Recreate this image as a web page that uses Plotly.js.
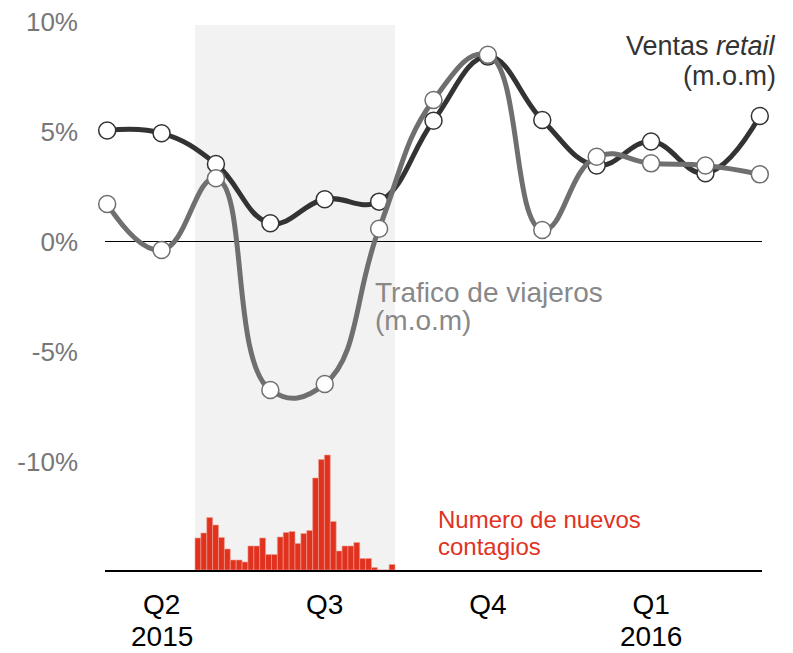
<!DOCTYPE html>
<html>
<head>
<meta charset="utf-8">
<script src="https://cdn.plot.ly/plotly-3.0.1.min.js"></script>
<style>html,body{margin:0;padding:0;background:#fff;}#chart{width:793px;height:653px;}</style>
</head>
<body>
<div id="chart"></div>
<script>
// Months (monthly observations)
const months = ['2015-04','2015-05','2015-06','2015-07','2015-08','2015-09','2015-10','2015-11','2015-12','2016-01','2016-02','2016-03','2016-04'];
// Ventas retail (m.o.m, %)
const retail = [5.04, 4.92, 3.52, 0.83, 1.92, 1.81, 5.49, 8.40, 5.52, 3.45, 4.54, 3.10, 5.70];
// Trafico de viajeros (m.o.m, %)
const travel = [1.70, -0.39, 2.87, -6.75, -6.48, 0.58, 6.43, 8.48, 0.52, 3.85, 3.55, 3.45, 3.05];
// Numero de nuevos contagios (per period, during the outbreak)
const cases = [6.4, 7.4, 10.5, 9.0, 6.5, 4.2, 2.0, 2.0, 1.6, 4.8, 4.8, 6.4, 3.1, 3.1, 6.6, 7.5, 7.7, 5.3, 7.3, 7.9, 18.4, 22.1, 23.0, 9.7, 3.8, 4.8, 4.8, 5.5, 2.3, 2.3, 0.5, 0, 0, 1.1];
const caseIdx = cases.map((_, i) => i);
// Tick labels
const yTickVals = [-10, -5, 0, 5, 10];
const yTickText = ['-10%', '-5%', '0%', '5%', '10%'];
const xTickVals = ['2015-05', '2015-08', '2015-11', '2016-02'];
const xTickText = ['Q2', 'Q3', 'Q4', 'Q1'];
const yearVals = ['2015-05', '2016-02'];
const yearText = ['2015', '2016'];

const FONT = 'Liberation Sans, Arial, sans-serif';
const L = 105, R = 31, T = 17, B = 83, W = 793, H = 653;
const pw = W - L - R, ph = H - T - B;
const px = x => (x - L) / pw;
const py = y => (H - B - y) / ph;

const traces = [
  {
    type: 'bar', x: caseIdx, y: cases, xaxis: 'x2', yaxis: 'y2',
    marker: {color: '#e0321f', line: {color: '#f0a090', width: 0.6}},
    hoverinfo: 'skip', showlegend: false
  },
  {
    type: 'scatter', mode: 'lines+markers', x: months, y: retail, cliponaxis: false,
    line: {color: '#333333', width: 5, shape: 'spline', smoothing: 1.2},
    marker: {size: 17, color: '#ffffff', line: {color: '#333333', width: 1.5}},
    showlegend: false
  },
  {
    type: 'scatter', mode: 'lines+markers', x: months, y: travel, cliponaxis: false,
    line: {color: '#6f6f6f', width: 5, shape: 'spline', smoothing: 1.3},
    marker: {size: 17, color: '#ffffff', line: {color: '#6f6f6f', width: 1.5}},
    showlegend: false
  }
];

const annotations = [
  {xref: 'paper', yref: 'paper', x: px(778), y: py(46), xanchor: 'right', yanchor: 'middle',
   text: 'Ventas <i>retail</i>', showarrow: false, font: {size: 27, color: '#333333', family: FONT}},
  {xref: 'paper', yref: 'paper', x: px(778), y: py(76), xanchor: 'right', yanchor: 'middle',
   text: '(m.o.m)', showarrow: false, font: {size: 27, color: '#333333', family: FONT}},
  {xref: 'paper', yref: 'paper', x: px(373), y: py(292), xanchor: 'left', yanchor: 'middle',
   text: 'Trafico de viajeros', showarrow: false, font: {size: 28, color: '#888888', family: FONT}},
  {xref: 'paper', yref: 'paper', x: px(373), y: py(320), xanchor: 'left', yanchor: 'middle',
   text: '(m.o.m)', showarrow: false, font: {size: 28, color: '#888888', family: FONT}},
  {xref: 'paper', yref: 'paper', x: px(436), y: py(519), xanchor: 'left', yanchor: 'middle',
   text: 'Numero de nuevos', showarrow: false, font: {size: 24, color: '#e0321f', family: FONT}},
  {xref: 'paper', yref: 'paper', x: px(436), y: py(546), xanchor: 'left', yanchor: 'middle',
   text: 'contagios', showarrow: false, font: {size: 24, color: '#e0321f', family: FONT}}
];
yearVals.forEach((v, i) => annotations.push({
  xref: 'x', yref: 'paper', x: v, y: py(637), xanchor: 'center', yanchor: 'middle',
  text: yearText[i], showarrow: false, font: {size: 28, color: '#000000', family: FONT}
}));

const layout = {
  width: W, height: H,
  margin: {l: L, r: R, t: T, b: B, pad: 0},
  paper_bgcolor: '#ffffff', plot_bgcolor: 'rgba(0,0,0,0)',
  font: {family: FONT},
  showlegend: false,
  xaxis: {
    type: 'category', range: [-0.04, 12.04],
    tickmode: 'array', tickvals: xTickVals, ticktext: xTickText,
    tickfont: {size: 28, color: '#000000', family: FONT},
    ticks: '', showgrid: false, zeroline: false,
    showline: true, linecolor: '#000000', linewidth: 2,
    ticklabelstandoff: 8, fixedrange: true
  },
  yaxis: {
    range: [-14.93, 10.2],
    tickmode: 'array', tickvals: yTickVals, ticktext: yTickText,
    tickfont: {size: 26, color: '#777777', family: FONT},
    ticks: '', showgrid: false,
    zeroline: true, zerolinecolor: '#000000', zerolinewidth: 1.5,
    showline: false, ticklabelstandoff: 26, fixedrange: true
  },
  xaxis2: {overlaying: 'x', anchor: 'y2', range: [-15.8, 95.89], visible: false, fixedrange: true},
  yaxis2: {overlaying: 'y', anchor: 'x2', range: [0, 110.6], visible: false, fixedrange: true},
  bargap: 0,
  shapes: [{
    type: 'rect', layer: 'below', xref: 'x', yref: 'y',
    x0: 1.614, x1: 5.29, y0: -14.93, y1: 9.84,
    fillcolor: '#f2f2f2', line: {width: 0}
  }],
  annotations: annotations
};

Plotly.newPlot('chart', traces, layout, {displayModeBar: false, staticPlot: true});
</script>
</body>
</html>
